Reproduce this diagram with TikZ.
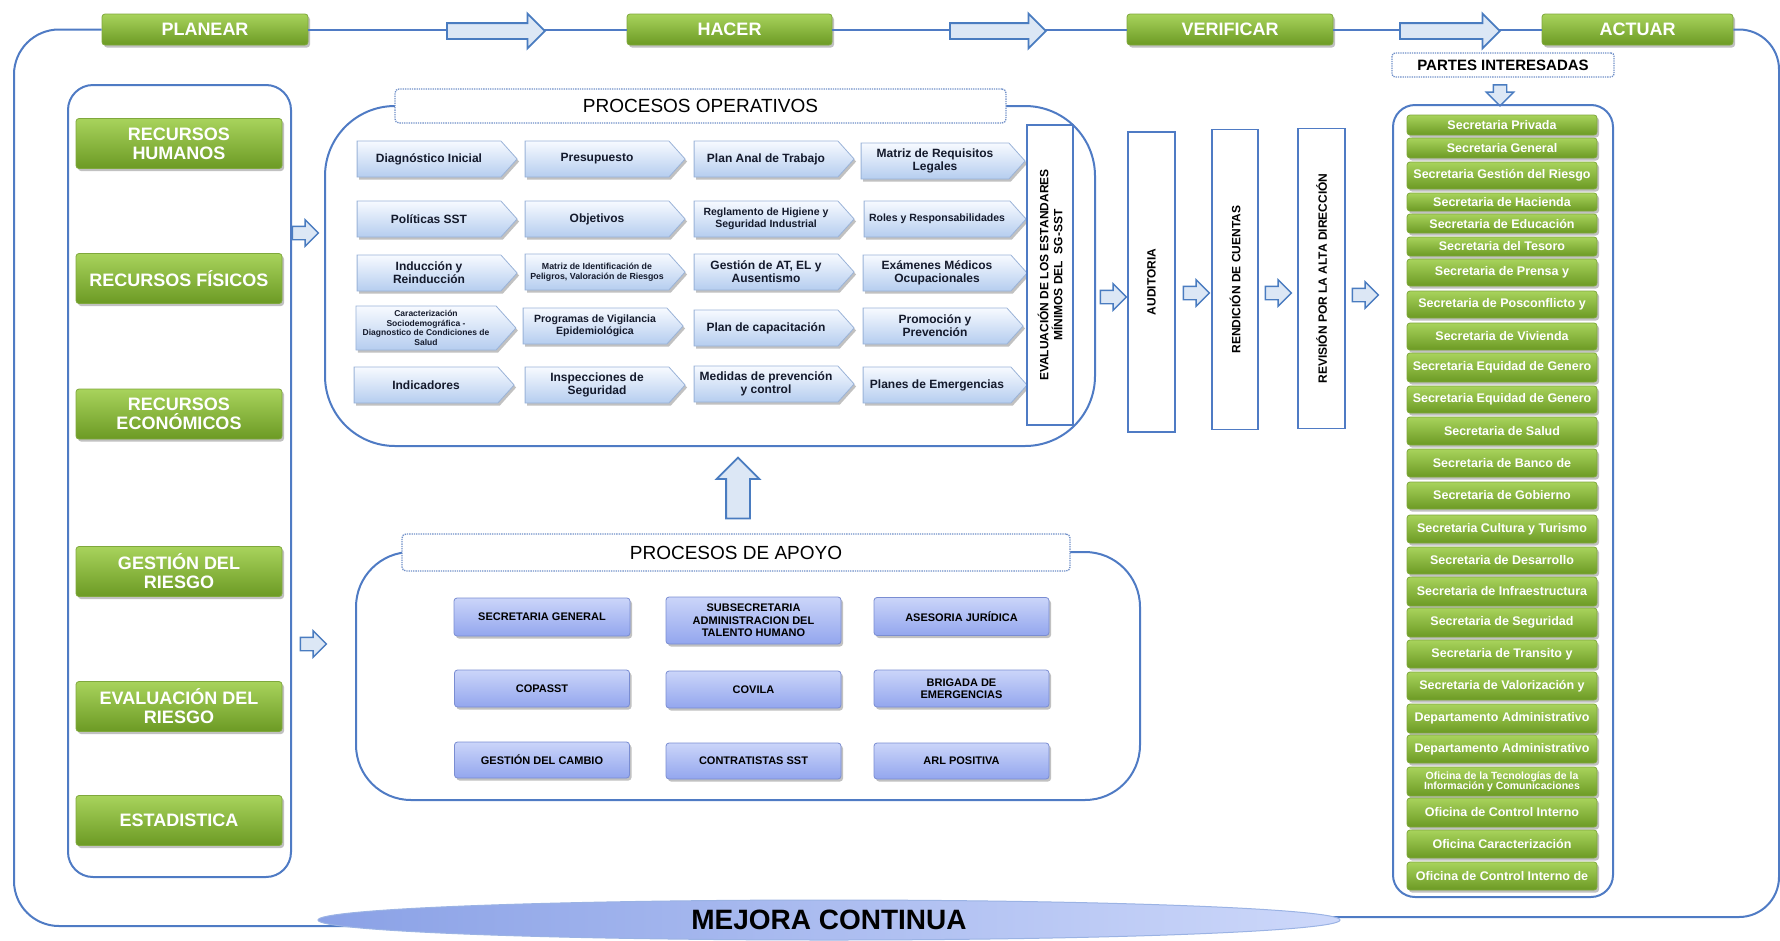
\documentclass[tikz,border=0pt]{standalone}
\usepackage{fontspec}
\setmainfont{Liberation Sans}
\usetikzlibrary{shapes.symbols,shapes.arrows,shapes.geometric,shadows}

\definecolor{loopblue}{HTML}{4F7BC4}
\definecolor{dotblue}{HTML}{6F8FC8}
\definecolor{arrowfill}{HTML}{DCE7F5}
\definecolor{arrowline}{HTML}{4A7CC0}
\definecolor{greentop}{HTML}{A8D35C}
\definecolor{greenbot}{HTML}{6C9A24}
\definecolor{greenline}{HTML}{7FA83C}
\definecolor{chevtop}{HTML}{F7FAFF}
\definecolor{chevbot}{HTML}{B5CDEF}
\definecolor{chevline}{HTML}{9AB3D8}
\definecolor{chevtext}{HTML}{141A2C}
\definecolor{apoyotop}{HTML}{CBD5F9}
\definecolor{apoyobot}{HTML}{93A6EE}
\definecolor{apoyoline}{HTML}{7A8DD2}
\definecolor{mejoraleft}{HTML}{8AA1E6}
\definecolor{mejoraright}{HTML}{CDD8FA}

\tikzset{
  softshadow/.style={drop shadow={opacity=0.35, shadow xshift=2pt, shadow yshift=-2.5pt, fill=black!70}},
  greenbox/.style={rectangle, rounded corners=3pt, top color=greentop, bottom color=greenbot,
    draw=greenline, line width=0.8pt, text=white, align=center, inner sep=0pt, softshadow},
  phasebox/.style={greenbox, minimum height=31pt, font=\bfseries\fontsize{18}{20}\selectfont},
  resbox/.style={greenbox, minimum width=206pt, minimum height=50pt, font=\bfseries\fontsize{18}{19}\selectfont},
  secbox/.style={greenbox, minimum width=190pt},
  chevron/.style={signal, signal to=east, signal pointer angle=96, minimum width=160pt,
    minimum height=36pt, inner sep=1pt, top color=chevtop, bottom color=chevbot, draw=chevline,
    line width=0.8pt, align=center, text=chevtext, font=\bfseries\fontsize{12}{13}\selectfont, softshadow},
  apoyobox/.style={rectangle, rounded corners=3pt, top color=apoyotop, bottom color=apoyobot,
    draw=apoyoline, line width=0.8pt, minimum width=175pt, minimum height=37pt, inner sep=1pt,
    align=center, font=\bfseries\fontsize{11}{12.5}\selectfont, softshadow},
  vertbox/.style={rectangle, draw=loopblue, line width=1.6pt, fill=white, rotate=90,
    minimum width=300pt, minimum height=46pt, inner sep=1pt, align=center,
    font=\bfseries\fontsize{12}{14}\selectfont},
  titlebox/.style={rectangle, rounded corners=4pt, draw=dotblue, densely dotted, line width=1.3pt,
    fill=white, inner sep=0pt},
  groupline/.style={draw=loopblue, line width=2pt},
  blockarrow/.style={single arrow, single arrow head extend=9.5pt, inner xsep=0pt, inner ysep=7pt,
    fill=arrowfill, draw=arrowline, line width=1.8pt},
  smallarrow/.style={blockarrow, inner ysep=6pt, single arrow head extend=6.5pt,
    minimum height=26pt, line width=1.4pt},
}

\begin{document}
\begin{tikzpicture}[x=1pt,y=-1pt]
\useasboundingbox (0,0) rectangle (1780,940);

% phases along the top
\node[phasebox, minimum width=206pt] (planear) at (205,29.5) {PLANEAR};
\node[phasebox, minimum width=205pt] (hacer) at (729.5,29.5) {HACER};
\node[phasebox, minimum width=206pt] (verificar) at (1230,29.5) {VERIFICAR};
\node[phasebox, minimum width=191pt] (actuar) at (1637.5,29.5) {ACTUAR};
\draw[groupline] (planear) -- (hacer);
\draw[groupline] (hacer) -- (verificar);
\draw[groupline] (verificar) -- (actuar);
\node[blockarrow, minimum height=98pt] (arrPH) at (492,31) {};
\node[blockarrow, minimum height=96pt] (arrHV) at (994,31) {};
\node[blockarrow, minimum height=100pt] (arrVA) at (1446,31) {};

% outer loop
\draw[groupline, rounded corners=45pt] (planear.west) -- (14,29.5) -- (14,926) -- (600,926);
\draw[groupline, rounded corners=40pt] (1000,917) -- (1779,917) -- (1779,29.5) -- (actuar.east);
\node[ellipse, minimum width=1022pt, minimum height=40pt, left color=mejoraleft, right color=mejoraright,
  draw=mejoraright!60!loopblue, line width=1pt, inner sep=0pt,
  font=\bfseries\fontsize{28}{30}\selectfont] (mejora) at (829,920) {MEJORA CONTINUA};

% resources
\draw[groupline, rounded corners=25pt] (68,85) rectangle (291,877);
\node[resbox] (recHumanos) at (179,143.5) {RECURSOS\\HUMANOS};
\node[resbox] (recFisicos) at (179,278.5) {RECURSOS FÍSICOS};
\node[resbox] (recEconomicos) at (179,414) {RECURSOS\\ECONÓMICOS};
\node[resbox] (gestionRiesgo) at (179,571.5) {GESTIÓN DEL\\RIESGO};
\node[resbox] (evalRiesgo) at (179,706.5) {EVALUACIÓN DEL\\RIESGO};
\node[resbox] (estadistica) at (179,820.5) {ESTADISTICA};
\node[smallarrow] (arrOper) at (302,233) {};
\node[smallarrow] (arrApoyo) at (310,644) {};

% operative processes
\draw[groupline, rounded corners=70pt] (325,106) rectangle (1095,446);
\node[titlebox, minimum width=611pt, minimum height=34pt, font=\fontsize{19}{21}\selectfont]
  (opTitle) at (700.5,106) {PROCESOS OPERATIVOS};
\node[chevron] (diagnostico) at (429,159) {Diagnóstico Inicial};
\node[chevron] (presupuesto) at (597,159) {Presupuesto};
\node[chevron] (planTrabajo) at (766,159) {Plan Anal de Trabajo};
\node[chevron, minimum width=164pt] (requisitos) at (935,161) {Matriz de Requisitos\\Legales};
\node[chevron] (politicas) at (429,219) {Políticas SST};
\node[chevron] (objetivos) at (597,219) {Objetivos};
\node[chevron, font=\bfseries\fontsize{10.5}{11.5}\selectfont] (reglamento) at (766,219)
  {Reglamento de Higiene y\\Seguridad Industrial};
\node[chevron, minimum width=162pt, font=\bfseries\fontsize{10.5}{11.5}\selectfont] (roles) at (937,219)
  {Roles y Responsabilidades};
\node[chevron] (induccion) at (429,273) {Inducción y\\Reinducción};
\node[chevron, font=\bfseries\fontsize{8.8}{10}\selectfont] (matrizPeligros) at (597,272)
  {Matriz de Identificación de\\Peligros, Valoración de Riesgos};
\node[chevron] (gestionAT) at (766,272) {Gestión de AT, EL y\\Ausentismo};
\node[chevron, minimum width=164pt] (examenes) at (937,273) {Exámenes Médicos\\Ocupacionales};
\node[chevron, minimum height=44pt, font=\bfseries\fontsize{8.5}{9.6}\selectfont] (caracterizacion)
  at (426,328) {Caracterización\\Sociodemográfica -\\Diagnostico de Condiciones de\\Salud};
\node[chevron, font=\bfseries\fontsize{10.5}{12}\selectfont] (vigilancia) at (595,326)
  {Programas de Vigilancia\\Epidemiológica};
\node[chevron] (capacitacion) at (766,328) {Plan de capacitación};
\node[chevron] (promocion) at (935,326) {Promoción y\\Prevención};
\node[chevron] (indicadores) at (426,385) {Indicadores};
\node[chevron] (inspecciones) at (597,385) {Inspecciones de\\Seguridad};
\node[chevron] (medidas) at (766,384) {Medidas de prevención\\y control};
\node[chevron, minimum width=164pt] (emergencias) at (937,385) {Planes de Emergencias};

% verification chain
\node[vertbox] (estandares) at (1050,275) {EVALUACIÓN DE LOS ESTANDARES\\MÍNIMOS DEL\ \ SG-SST};
\node[vertbox, minimum height=47pt] (auditoria) at (1151.5,282) {AUDITORIA};
\node[vertbox] (rendicion) at (1235,279.5) {RENDICIÓN DE CUENTAS};
\node[vertbox, minimum height=47pt] (revision) at (1321.5,278.5) {REVISIÓN POR LA ALTA DIRECCIÓN};
\node[smallarrow] (arrEA) at (1110,297) {};
\node[smallarrow] (arrAR) at (1193,293) {};
\node[smallarrow] (arrRR) at (1275,293) {};
\node[smallarrow] (arrRS) at (1362,295) {};

% support processes
\node[blockarrow, rotate=90, minimum height=61pt, inner ysep=11pt, single arrow head extend=9.5pt]
  (arrUp) at (738,494) {};
\draw[groupline, rounded corners=55pt] (356,552) rectangle (1140,800);
\node[titlebox, minimum width=668pt, minimum height=37pt, font=\fontsize{19}{21}\selectfont]
  (apTitle) at (736,552.5) {PROCESOS DE APOYO};
\node[apoyobox, minimum width=176pt, minimum height=38pt] (secGeneral) at (542,617) {SECRETARIA GENERAL};
\node[apoyobox, minimum height=47pt] (talento) at (753.5,620.5) {SUBSECRETARIA\\ADMINISTRACION DEL\\TALENTO HUMANO};
\node[apoyobox, minimum height=38pt] (juridica) at (961.5,616.5) {ASESORIA JURÍDICA};
\node[apoyobox] (copasst) at (542,688.5) {COPASST};
\node[apoyobox] (covila) at (753.5,689.5) {COVILA};
\node[apoyobox] (brigada) at (961.5,688.5) {BRIGADA DE\\EMERGENCIAS};
\node[apoyobox, minimum height=36pt] (cambio) at (542,760) {GESTIÓN DEL CAMBIO};
\node[apoyobox, minimum height=36pt] (contratistas) at (753.5,761) {CONTRATISTAS SST};
\node[apoyobox, minimum height=36pt] (arl) at (961.5,761) {ARL POSITIVA};

% interested parties
\node[titlebox, minimum width=222pt, minimum height=24pt, rounded corners=3pt,
  font=\bfseries\fontsize{15}{16}\selectfont] (partes) at (1503,65) {PARTES INTERESADAS};
\node[blockarrow, rotate=-90, minimum height=21pt, inner ysep=6pt, single arrow head extend=7pt,
  line width=1.4pt] (arrDown) at (1500,92) {};
\draw[groupline, rounded corners=22pt] (1393,105) rectangle (1613,897);
\foreach \yc/\h/\fs/\txt [count=\i] in {
  125/20/12.5/Secretaria Privada,
  148/20/12.5/Secretaria General,
  175.5/27/12.5/Secretaria Gestión del Riesgo,
  202/18/12.5/Secretaria de Hacienda,
  223.5/19/12.5/Secretaria de Educación,
  246.5/19/12.5/Secretaria del Tesoro,
  272.5/27/12.5/Secretaria de Prensa y,
  304.5/27/12.5/Secretaria de Posconflicto y,
  336.5/27/12.5/Secretaria de Vivienda,
  367.5/29/12.5/Secretaria Equidad de Genero,
  399.5/27/12.5/Secretaria Equidad de Genero,
  431/28/12.5/Secretaria de Salud,
  463/28/12.5/Secretaria de Banco de,
  495.5/27/12.5/Secretaria de Gobierno,
  529/28/12.5/Secretaria Cultura y Turismo,
  560.5/27/12.5/Secretaria de Desarrollo,
  591.5/29/12.5/Secretaria de Infraestructura,
  622.5/29/12.5/Secretaria de Seguridad,
  654/28/12.5/Secretaria de Transito y,
  686/28/12.5/Secretaria de Valorización y,
  718.5/29/12.5/Departamento Administrativo,
  749/28/12.5/Departamento Administrativo,
  781.5/29/10.5/Oficina de la Tecnologías de la\\Información y Comunicaciones,
  812.5/29/12.5/Oficina de Control Interno,
  844/28/12.5/Oficina Caracterización,
  876/28/12.5/Oficina de Control Interno de}
  \node[secbox, minimum height=\h pt, font=\bfseries\fontsize{\fs}{\fs}\selectfont] (sec\i) at (1502,\yc) {\txt};
\end{tikzpicture}
\end{document}
